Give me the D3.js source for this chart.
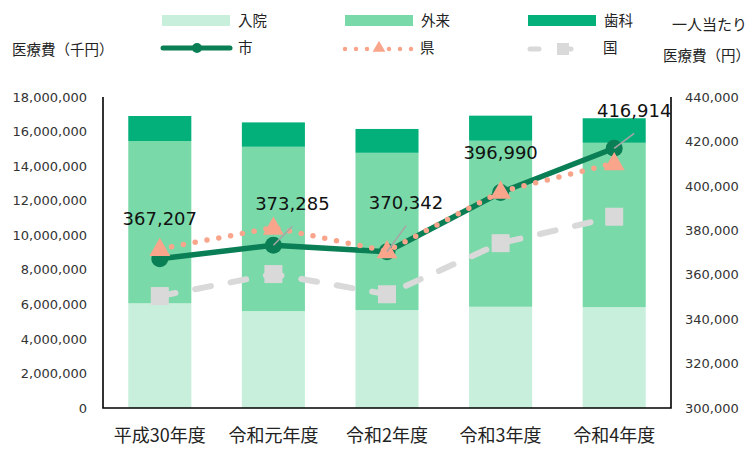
<!DOCTYPE html>
<html>
<head>
<meta charset="utf-8">
<script src="https://cdn.jsdelivr.net/npm/d3@7"></script>
<style>
	body { margin: 0; background: #fff; }
	svg { display: block; }
	.tick-label { font-family: "DejaVu Sans", Verdana, sans-serif; font-size: 13px; fill: #333; }
	.cjk { font-family: "Noto Sans CJK JP", sans-serif; fill: #222; }
	.data-label { font-family: "DejaVu Sans", Verdana, sans-serif; font-size: 18px; fill: #111; }
</style>
</head>
<body>
<div id="svg-container"></div>
<script>
// categories and values (medical cost in 千円, per-capita in 円)
var categories = ['平成30年度', '令和元年度', '令和2年度', '令和3年度', '令和4年度'];
var inpatient  = [6060000, 5610000, 5670000, 5860000, 5840000];
var outpatient = [9390000, 9510000, 9100000, 9610000, 9510000];
var dental     = [1450000, 1410000, 1380000, 1450000, 1420000];
var cityPer    = [367207, 373285, 370342, 396990, 416914];
var prefPer    = [371600, 381200, 370600, 397400, 410200];
var nationPer  = [350400, 360300, 351200, 374200, 386100];
var leftTicks  = [0, 2000000, 4000000, 6000000, 8000000, 10000000, 12000000, 14000000, 16000000, 18000000];
var rightTicks = [300000, 320000, 340000, 360000, 380000, 400000, 420000, 440000];

// label placement relative to the 市 point, [dx, dy, leader line?]
var labelOffsets = [[0, -40, false], [19, -42, true], [19, -49, true], [0, -40, false], [20, -38, true]];

var W = 754, H = 450;
var plotL = 103, plotR = 671, plotT = 97, plotB = 408;

var svg = d3.select('#svg-container').append('svg')
	.attr('width', W)
	.attr('height', H);

svg.append('rect').attr('width', W).attr('height', H).attr('fill', '#fff');

var x = d3.scaleBand()
	.domain(categories)
	.range([plotL, plotR])
	.paddingInner(0.445)
	.paddingOuter(0.2225);

var yL = d3.scaleLinear().domain([0, 18000000]).range([plotB, plotT]);
var yR = d3.scaleLinear().domain([300000, 440000]).range([plotB, plotT]);

var fmt = d3.format(',');

// stacked bars
var rows = categories.map(function(c, i) {
	return { cat: c, inpatient: inpatient[i], outpatient: outpatient[i], dental: dental[i] };
});
var keys = ['inpatient', 'outpatient', 'dental'];
var barColors = { inpatient: '#c8efdb', outpatient: '#79d9a8', dental: '#03b07a' };
var stacked = d3.stack().keys(keys)(rows);

svg.append('g').selectAll('g')
	.data(stacked)
	.enter()
	.append('g')
	.attr('fill', function(d){ return barColors[d.key] })
	.selectAll('rect')
	.data(function(d){ return d })
	.enter()
	.append('rect')
	.attr('x', function(d){ return x(d.data.cat) })
	.attr('width', x.bandwidth())
	.attr('y', function(d){ return yL(d[1]) })
	.attr('height', function(d){ return yL(d[0]) - yL(d[1]) });

// axes
var axL = d3.axisLeft(yL).tickValues(leftTicks).tickSize(0).tickPadding(16).tickFormat(fmt);
var gL = svg.append('g').attr('transform', 'translate(' + plotL + ',0)').call(axL);
gL.select('.domain').remove();
gL.selectAll('text').attr('class', 'tick-label').attr('fill', null);

var axR = d3.axisRight(yR).tickValues(rightTicks).tickSize(0).tickPadding(14).tickFormat(fmt);
var gR = svg.append('g').attr('transform', 'translate(' + plotR + ',0)').call(axR);
gR.select('.domain').remove();
gR.selectAll('text').attr('class', 'tick-label').attr('fill', null);

var axB = d3.axisBottom(x).tickSize(0).tickPadding(21);
var gB = svg.append('g').attr('transform', 'translate(0,' + plotB + ')').call(axB);
gB.select('.domain').remove();
gB.selectAll('text').attr('class', 'cjk').style('font-size', '18px').attr('fill', null);

var axisPath = 'M' + plotL + ',' + plotT + 'V' + plotB + 'H' + plotR + 'V' + plotT;
svg.append('path').attr('d', axisPath).attr('fill', 'none').attr('stroke', '#000').attr('stroke-width', 1.6);

// lines
function pts(arr) {
	return arr.map(function(v, i){ return [x(categories[i]) + x.bandwidth() / 2, yR(v)] });
}
var line = d3.line();

var natPts = pts(nationPer), cityPts = pts(cityPer), prefPts = pts(prefPer);

svg.append('path').attr('d', line(natPts)).attr('fill', 'none')
	.attr('stroke', '#d9d9d9').attr('stroke-width', 6)
	.attr('stroke-dasharray', '16 20').attr('stroke-linecap', 'round');
svg.append('g').selectAll('rect').data(natPts).enter().append('rect')
	.attr('x', function(d){ return d[0] - 9 }).attr('y', function(d){ return d[1] - 9 })
	.attr('width', 18).attr('height', 18).attr('fill', '#d9d9d9');

svg.append('path').attr('d', line(cityPts)).attr('fill', 'none')
	.attr('stroke', '#0a7f55').attr('stroke-width', 5.5).attr('stroke-linejoin', 'round');
svg.append('g').selectAll('circle').data(cityPts).enter().append('circle')
	.attr('cx', function(d){ return d[0] }).attr('cy', function(d){ return d[1] })
	.attr('r', 8.5).attr('fill', '#0a7f55');

svg.append('path').attr('d', line(prefPts)).attr('fill', 'none')
	.attr('stroke', '#f8a58c').attr('stroke-width', 5.5)
	.attr('stroke-dasharray', '0 12').attr('stroke-linecap', 'round');
var tri = d3.symbol().type(d3.symbolTriangle).size(190);
svg.append('g').selectAll('path').data(prefPts).enter().append('path')
	.attr('d', tri)
	.attr('transform', function(d){ return 'translate(' + d[0] + ',' + (d[1] + 1) + ')' })
	.attr('fill', '#f8a58c');

// data labels for 市
cityPts.forEach(function(p, i) {
	var o = labelOffsets[i];
	var lx = p[0] + o[0], ly = p[1] + o[1];
	if (o[2]) {
		svg.append('line')
			.attr('x1', p[0]).attr('y1', p[1])
			.attr('x2', lx).attr('y2', ly + 23)
			.attr('stroke', '#a6a6a6').attr('stroke-width', 1.5);
	}
	svg.append('text')
		.attr('class', 'data-label')
		.attr('x', lx).attr('y', ly)
		.attr('text-anchor', 'middle')
		.attr('dominant-baseline', 'central')
		.text(fmt(cityPer[i]));
});

// legend
var lg = svg.append('g');
function legendText(tx, ty, label, size) {
	lg.append('text').attr('class', 'cjk').attr('x', tx).attr('y', ty)
		.attr('dominant-baseline', 'central').style('font-size', (size || 14.5) + 'px').text(label);
}
[['入院', 162, barColors.inpatient], ['外来', 345, barColors.outpatient], ['歯科', 528, barColors.dental]]
	.forEach(function(d) {
		lg.append('rect').attr('x', d[1]).attr('y', 15).attr('width', 68).attr('height', 11).attr('fill', d[2]);
		legendText(d[1] + 76, 19, d[0]);
	});

lg.append('line').attr('x1', 163).attr('x2', 230).attr('y1', 48).attr('y2', 48)
	.attr('stroke', '#0a7f55').attr('stroke-width', 5).attr('stroke-linecap', 'round');
lg.append('circle').attr('cx', 197).attr('cy', 48).attr('r', 5).attr('fill', '#0a7f55');
legendText(238, 46, '市');

lg.append('line').attr('x1', 345).attr('x2', 413).attr('y1', 49).attr('y2', 49)
	.attr('stroke', '#f8a58c').attr('stroke-width', 4.5)
	.attr('stroke-dasharray', '0 11').attr('stroke-linecap', 'round');
lg.append('path').attr('d', d3.symbol().type(d3.symbolTriangle).size(70))
	.attr('transform', 'translate(379,48)').attr('fill', '#f8a58c');
legendText(420, 46, '県');

lg.append('line').attr('x1', 530).attr('x2', 581).attr('y1', 49).attr('y2', 49)
	.attr('stroke', '#d9d9d9').attr('stroke-width', 5)
	.attr('stroke-dasharray', '9 23').attr('stroke-linecap', 'round');
lg.append('rect').attr('x', 557).attr('y', 43).attr('width', 12).attr('height', 12).attr('fill', '#d9d9d9');
legendText(603, 46, '国');

legendText(12, 48, '医療費（千円）');
legendText(672, 23, '一人当たり', 15);
legendText(663, 54, '医療費（円）');
</script>
</body>
</html>
